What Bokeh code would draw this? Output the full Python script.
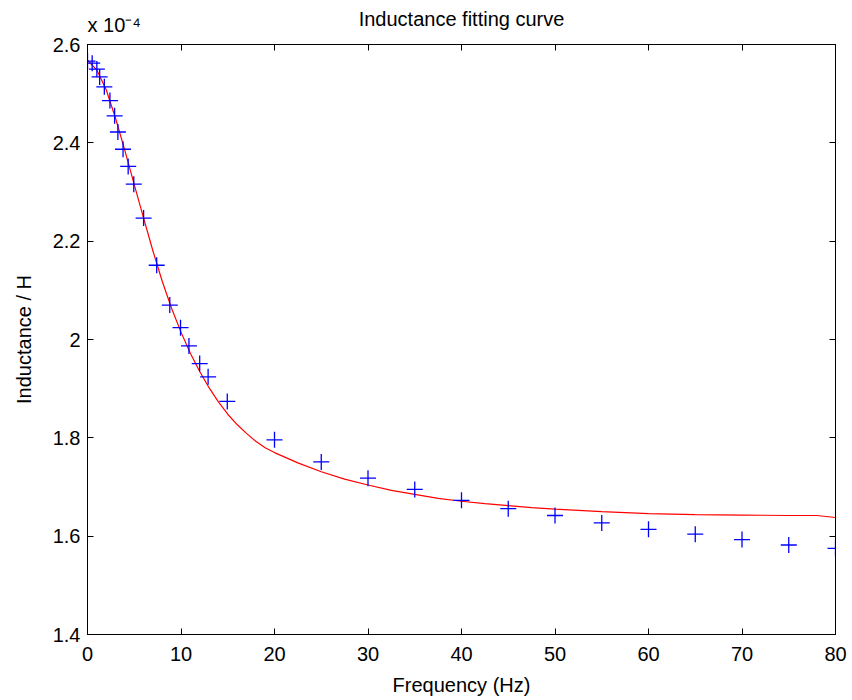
from bokeh.plotting import figure
from bokeh.models import Range1d, FixedTicker, LinearAxis, Title
from bokeh.embed import file_html
from bokeh.resources import INLINE

# Measured inductance (units of 1e-4 H) vs frequency (Hz)
freq_meas = [0, 0.5, 1.0, 1.3, 1.8, 2.4, 2.9, 3.25, 3.8, 4.35, 4.95, 6.0, 7.4,
             8.8, 9.95, 10.85, 12.0, 12.9, 14.95, 20, 25, 30, 35, 40, 45, 50,
             55, 60, 65, 70, 75, 80]
ind_meas = [2.566, 2.562, 2.550, 2.534, 2.514, 2.486, 2.455, 2.422, 2.387,
            2.352, 2.316, 2.247, 2.151, 2.070, 2.024, 1.987, 1.951, 1.924,
            1.874, 1.796, 1.751, 1.718, 1.695, 1.673, 1.656, 1.642, 1.627,
            1.614, 1.604, 1.593, 1.582, 1.575]

# Fitted curve
freq_fit = [0, 1, 2, 3, 4, 5, 6, 7, 8, 9, 10, 11, 12, 13, 14, 15, 16, 17, 18,
            19, 20, 22.5, 25, 27.5, 30, 32.5, 35, 37.5, 40, 42.5, 45, 47.5, 50,
            55, 60, 65, 70, 75, 78, 80]
ind_fit = [2.568, 2.548, 2.508, 2.450, 2.384, 2.315, 2.247, 2.180, 2.118,
           2.063, 2.015, 1.972, 1.935, 1.902, 1.873, 1.848, 1.827, 1.809,
           1.793, 1.780, 1.770, 1.749, 1.731, 1.716, 1.704, 1.693, 1.685,
           1.677, 1.671, 1.666, 1.662, 1.658, 1.655, 1.650, 1.646, 1.644,
           1.643, 1.642, 1.642, 1.638]

x_ticks = [0, 10, 20, 30, 40, 50, 60, 70, 80]
x_tick_labels = ["0", "10", "20", "30", "40", "50", "60", "70", "80"]
y_ticks = [1.4, 1.6, 1.8, 2.0, 2.2, 2.4, 2.6]
y_tick_labels = ["1.4", "1.6", "1.8", "2", "2.2", "2.4", "2.6"]
scale_text = "x 10\u207b\u2074"

FONT = "Liberation Sans"
FS = "20px"

p = figure(width=852, height=700, output_backend="svg", toolbar_location=None,
           x_range=Range1d(0, 80), y_range=Range1d(1.4, 2.6),
           min_border_left=87, min_border_right=17, min_border_top=44,
           min_border_bottom=66, title="Inductance fitting curve")

p.title.text_font = FONT
p.title.text_font_size = FS
p.title.text_font_style = "normal"
p.title.align = "center"
p.title.text_color = "black"
p.title.standoff = -54

p.grid.visible = False
p.outline_line_color = "black"
p.outline_line_width = 1
p.background_fill_color = "white"
p.border_fill_color = "white"

def style_axis(ax, ticks, labels, show_labels=True):
    ax.ticker = FixedTicker(ticks=ticks)
    ax.minor_tick_line_color = None
    ax.major_tick_in = 6
    ax.major_tick_out = 0
    ax.major_tick_line_color = "black"
    ax.axis_line_color = "black"
    ax.major_label_text_font = FONT
    if show_labels:
        ax.major_label_overrides = {t: l for t, l in zip(ticks, labels)}
        ax.major_label_text_font_size = FS
        ax.major_label_text_color = "black"
    else:
        ax.major_label_text_font_size = "0px"
        ax.major_label_text_color = None
        ax.major_label_standoff = 0

style_axis(p.xaxis[0], x_ticks, x_tick_labels)
style_axis(p.yaxis[0], y_ticks, y_tick_labels)
p.xaxis[0].major_label_standoff = 12
p.yaxis[0].major_label_standoff = 7

p.xaxis[0].axis_label = "Frequency (Hz)"
p.yaxis[0].axis_label = "Inductance / H"
for ax in (p.xaxis[0], p.yaxis[0]):
    ax.axis_label_text_font = FONT
    ax.axis_label_text_font_size = FS
    ax.axis_label_text_font_style = "normal"
    ax.axis_label_text_color = "black"
p.xaxis[0].axis_label_standoff = 10
p.yaxis[0].axis_label_standoff = 15

top_ax = LinearAxis()
style_axis(top_ax, x_ticks, x_tick_labels, show_labels=False)
p.add_layout(top_ax, "above")
right_ax = LinearAxis()
style_axis(right_ax, y_ticks, y_tick_labels, show_labels=False)
p.add_layout(right_ax, "right")

scale_title = Title(text=scale_text, align="left", offset=0, standoff=18,
                    text_font=FONT, text_font_size=FS, text_font_style="normal",
                    text_color="black")
p.add_layout(scale_title, "above")

p.line(freq_fit, ind_fit, line_color="#ff0000", line_width=1.2)
p.scatter(freq_meas, ind_meas, marker="cross", size=16, line_color="#0000ff",
          line_width=1.3)

open("out.html", "w").write(file_html(p, INLINE))
